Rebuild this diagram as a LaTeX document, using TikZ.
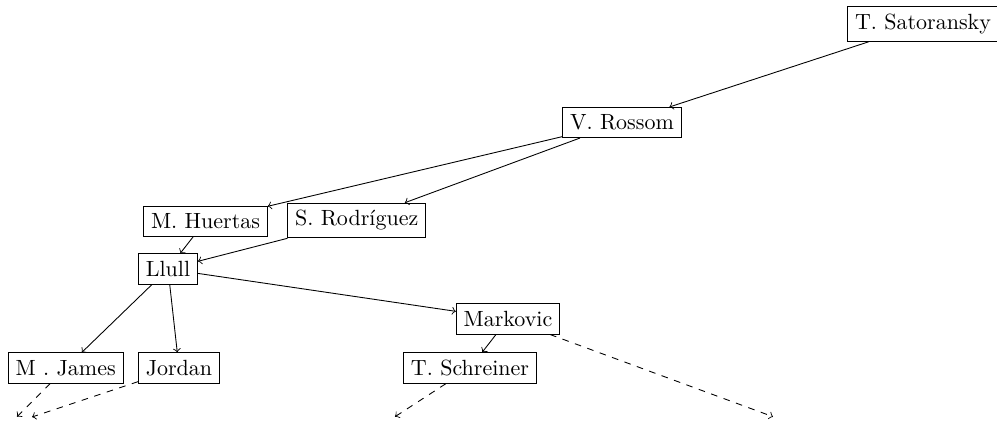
\documentclass[tikz,border=0pt]{standalone}
\begin{document}
\begin{tikzpicture}[x=0.4545pt,y=-0.4545pt,
  person/.style={draw,rectangle,inner sep=0.3333em},
  link/.style={->},
  more/.style={->,dashed}]
\useasboundingbox (0,0) rectangle (997,425);
\node[person] (sat) at (923,24) {T. Satoransky};
\node[person] (ros) at (622,122.5) {V. Rossom};
\node[person] (hue) at (205.5,221) {M. Huertas};
\node[person] (rod) at (356.7,220.5) {S. Rodríguez};
\node[person] (llu) at (168,269) {Llull};
\node[person] (mar) at (508,319) {Markovic};
\node[person] (sch) at (470,368) {T. Schreiner};
\node[person] (jam) at (65.7,368) {M . James};
\node[person] (jor) at (179,368) {Jordan};
\coordinate (e1) at (17,416.7);
\coordinate (e2) at (32,417);
\coordinate (e3) at (395,416.7);
\coordinate (e4) at (773,416.7);
\draw[link] (sat) -- (ros);
\draw[link] (ros) -- (hue);
\draw[link] (ros) -- (rod);
\draw[link] (hue) -- (llu);
\draw[link] (rod) -- (llu);
\draw[link] (llu) -- (mar);
\draw[link] (mar) -- (sch);
\draw[link] (llu) -- (jam);
\draw[link] (llu) -- (jor);
\draw[more] (jam) -- (e1);
\draw[more] (jor) -- (e2);
\draw[more] (sch) -- (e3);
\draw[more] (mar) -- (e4);
\end{tikzpicture}
\end{document}
